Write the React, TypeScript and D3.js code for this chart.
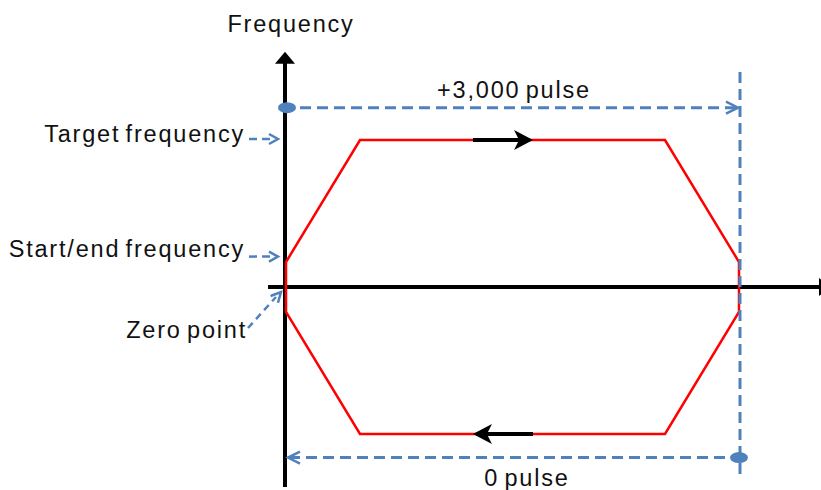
import React, { useEffect, useRef } from "react";
import * as d3 from "d3";

// pulse position (x) vs frequency (y, signed by direction)
const upperPulse = [0, 490, 2510, 3000];
const upperFreq = [17, 100, 100, 17];
const lowerPulse = [3000, 2510, 490, 0];
const lowerFreq = [-17, -100, -100, -17];

const forwardArrow = [1238, 1636]; // pulse range of the black arrow on top
const reverseArrow = [1636, 1238];

const axisLabels = ["Frequency"];
const levelLabels = ["Target frequency", "Start/end frequency", "Zero point"];
const levelValues = [100, 20];
const pulseLabels = ["+3,000 pulse", "0 pulse"];
const pulseMarkerFreq = [122, -116];

const W = 821;
const H = 490;
const BLUE = "#4f81bd";
const FONT = "'Liberation Sans', Arial, sans-serif";

export default function App() {
  const ref = useRef<SVGSVGElement>(null);

  useEffect(() => {
    if (!ref.current) return;
    const svg = d3.select(ref.current);
    svg.selectAll("*").remove();

    const x = d3.scaleLinear().domain([0, 3000]).range([286, 739]);
    const y = d3.scaleLinear().domain([0, 100]).range([287, 140]);

    const pts = [
      ...upperPulse.map((p, i) => [p, upperFreq[i]]),
      ...lowerPulse.map((p, i) => [p, lowerFreq[i]]),
    ] as [number, number][];

    // axes
    const x0 = x(0) - 1;
    const y0 = y(0);
    svg.append("line")
      .attr("x1", x0).attr("x2", x0)
      .attr("y1", y(160) + 10).attr("y2", y(-136))
      .attr("stroke", "#000").attr("stroke-width", 4);
    svg.append("path")
      .attr("d", `M${x0},${y(160)} L${x0 - 10},${y(160) + 12} L${x0 + 10},${y(160) + 12} Z`)
      .attr("fill", "#000");
    svg.append("line")
      .attr("x1", x(-119)).attr("x2", 819)
      .attr("y1", y0).attr("y2", y0)
      .attr("stroke", "#000").attr("stroke-width", 4);
    svg.append("path")
      .attr("d", `M819,${y0 - 9} L831,${y0} L819,${y0 + 9} Z`)
      .attr("fill", "#000");

    // red speed profile
    const line = d3.line<[number, number]>()
      .x((d) => x(d[0]))
      .y((d) => y(d[1]));
    svg.append("path")
      .attr("d", line(pts) + "Z")
      .attr("fill", "none")
      .attr("stroke", "#ff0000")
      .attr("stroke-width", 2.5)
      .attr("stroke-linejoin", "miter");

    // direction arrows
    const flowArrow = (range: number[], f: number) => {
      const a = x(range[0]);
      const b = x(range[1]);
      const yy = y(f);
      const dir = Math.sign(b - a);
      svg.append("line")
        .attr("x1", a).attr("x2", b - dir * 12)
        .attr("y1", yy).attr("y2", yy)
        .attr("stroke", "#000").attr("stroke-width", 4);
      svg.append("path")
        .attr("d", `M${b},${yy} L${b - dir * 19},${yy - 10} L${b - dir * 14},${yy} L${b - dir * 19},${yy + 10} Z`)
        .attr("fill", "#000");
    };
    flowArrow(forwardArrow, 100);
    flowArrow(reverseArrow, -100);

    // blue dashed markers
    const chevron = (tx: number, ty: number, dx: number, dy: number, len: number, w: number) => {
      const n = Math.hypot(dx, dy);
      const ux = dx / n, uy = dy / n;
      const bx = tx - ux * len, by = ty - uy * len;
      svg.append("path")
        .attr("d", `M${bx - uy * w},${by + ux * w} L${tx},${ty} L${bx + uy * w},${by - ux * w}`)
        .attr("fill", "none").attr("stroke", BLUE).attr("stroke-width", 2.5);
    };

    const xEnd = x(3000) + 1;
    svg.append("line")
      .attr("x1", xEnd).attr("x2", xEnd)
      .attr("y1", 72).attr("y2", 476)
      .attr("stroke", BLUE).attr("stroke-width", 3).attr("stroke-dasharray", "11,6");

    const yTop = y(pulseMarkerFreq[0]);
    svg.append("line")
      .attr("x1", x(0) + 14).attr("x2", xEnd - 3)
      .attr("y1", yTop).attr("y2", yTop)
      .attr("stroke", BLUE).attr("stroke-width", 3).attr("stroke-dasharray", "11,6");
    svg.append("ellipse").attr("cx", x(0) + 1).attr("cy", yTop).attr("rx", 9).attr("ry", 5.5).attr("fill", BLUE);
    chevron(xEnd - 2, yTop, 1, 0, 12, 6);

    const yBot = y(pulseMarkerFreq[1]);
    svg.append("line")
      .attr("x1", x(0) + 3).attr("x2", xEnd - 10)
      .attr("y1", yBot).attr("y2", yBot)
      .attr("stroke", BLUE).attr("stroke-width", 3).attr("stroke-dasharray", "11,6");
    svg.append("ellipse").attr("cx", xEnd - 1).attr("cy", yBot).attr("rx", 9).attr("ry", 5.5).attr("fill", BLUE);
    chevron(x(0) + 2, yBot, -1, 0, 12, 6);

    // label pointers
    levelValues.forEach((v) => {
      const yy = y(v) - 1;
      svg.append("line")
        .attr("x1", 249).attr("x2", 275)
        .attr("y1", yy).attr("y2", yy)
        .attr("stroke", BLUE).attr("stroke-width", 2.5).attr("stroke-dasharray", "8,5");
      chevron(278, yy, 1, 0, 9, 5);
    });
    svg.append("line")
      .attr("x1", 248).attr("y1", 328).attr("x2", 276).attr("y2", 297)
      .attr("stroke", BLUE).attr("stroke-width", 2.5).attr("stroke-dasharray", "7,5");
    chevron(281, 292, 1, -1.1, 10, 5);

    // text
    const text = (s: string, tx: number, ty: number, anchor: string) =>
      svg.append("text")
        .attr("x", tx).attr("y", ty)
        .attr("text-anchor", anchor)
        .attr("font-family", FONT)
        .attr("font-size", 23.5)
        .attr("letter-spacing", 1.8)
        .attr("word-spacing", -3)
        .attr("fill", "#111")
        .text(s);

    text(axisLabels[0], 291, 32, "middle");
    text(levelLabels[0], 245, 142, "end");
    text(levelLabels[1], 245, 257, "end");
    text(levelLabels[2], 247, 338, "end");
    text(pulseLabels[0], 514, 98, "middle");
    text(pulseLabels[1], 527, 486, "middle");
  }, []);

  return (
    <svg
      ref={ref}
      width={W}
      height={H}
      style={{ position: "absolute", left: 0, top: 0, background: "#fff" }}
    />
  );
}
